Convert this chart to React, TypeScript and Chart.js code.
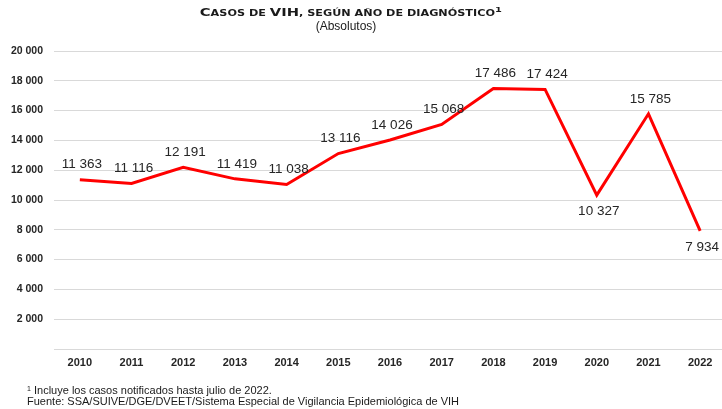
import React, { useEffect, useLayoutEffect, useRef } from "react";
import { Chart, registerables } from "chart.js";

Chart.register(...registerables);

const years = ["2010", "2011", "2012", "2013", "2014", "2015", "2016", "2017", "2018", "2019", "2020", "2021", "2022"];
const cases = [11363, 11116, 12191, 11419, 11038, 13116, 14026, 15068, 17486, 17424, 10327, 15785, 7934];
const yTicks = [0, 2000, 4000, 6000, 8000, 10000, 12000, 14000, 16000, 18000, 20000];
const labelsBelowYears = ["2020", "2022"];

const title = "Casos de VIH, según año de diagnóstico";
const subtitle = "(Absolutos)";
const footnote1 = "Incluye los casos notificados hasta julio de 2022.";
const footnote2 = "Fuente: SSA/SUIVE/DGE/DVEET/Sistema Especial de Vigilancia Epidemiológica de VIH";

const FONT = "'Liberation Sans', Arial, sans-serif";
const TITLE_FONT = "'DejaVu Sans', 'Liberation Sans', sans-serif";
const TITLE_TARGET_WIDTH = 302;

function fmt(v: number): string {
  if (v < 1000) return String(v);
  const th = Math.floor(v / 1000);
  const rest = String(v % 1000).padStart(3, "0");
  return `${th} ${rest}`;
}

const valueLabels = {
  id: "valueLabels",
  afterDatasetsDraw(chart: any) {
    const ctx = chart.ctx;
    const meta = chart.getDatasetMeta(0);
    ctx.save();
    ctx.font = `13.5px ${FONT}`;
    ctx.fillStyle = "#262626";
    ctx.textAlign = "center";
    ctx.textBaseline = "middle";
    meta.data.forEach((pt: any, i: number) => {
      const below = labelsBelowYears.includes(years[i]);
      const y = below ? pt.y + 16 : pt.y - 15;
      ctx.fillText(fmt(cases[i]), pt.x + 2, y);
    });
    ctx.restore();
  },
};

function SmallCaps({ text }: { text: string }) {
  const parts: React.ReactNode[] = [];
  for (let i = 0; i < text.length; i++) {
    const ch = text[i];
    const isUpper = ch !== ch.toLowerCase();
    parts.push(
      <span key={i} style={{ fontSize: isUpper ? 10.5 : 8 }}>
        {ch.toUpperCase()}
      </span>
    );
  }
  return <>{parts}</>;
}

export default function App() {
  const ref = useRef<HTMLCanvasElement | null>(null);
  const titleRef = useRef<HTMLSpanElement | null>(null);

  useLayoutEffect(() => {
    const el = titleRef.current;
    if (!el) return;
    const w = el.getBoundingClientRect().width;
    if (w > 0) el.style.transform = `scaleX(${TITLE_TARGET_WIDTH / w})`;
  }, []);

  useEffect(() => {
    if (!ref.current) return;
    const chart = new Chart(ref.current, {
      type: "line",
      data: {
        labels: years,
        datasets: [
          {
            data: cases,
            borderColor: "#ff0000",
            borderWidth: 3,
            pointRadius: 0,
            tension: 0,
            fill: false,
          },
        ],
      },
      options: {
        responsive: false,
        animation: false,
        layout: { padding: { top: 51, bottom: 40, left: 0, right: 4 } },
        plugins: {
          legend: { display: false },
          tooltip: { enabled: false },
          title: { display: false },
        },
        scales: {
          x: {
            offset: true,
            grid: { display: false, drawTicks: false },
            border: { display: false },
            ticks: {
              padding: 7,
              color: "#262626",
              font: { family: FONT, size: 11, weight: "bold" },
              maxRotation: 0,
              autoSkip: false,
            },
            afterFit: (scale: any) => {
              scale.height = 20;
            },
          },
          y: {
            min: 0,
            max: 20000,
            grid: { color: "#d9d9d9", lineWidth: 1, drawTicks: false },
            border: { display: false },
            afterBuildTicks: (scale: any) => {
              scale.ticks = yTicks.map((v) => ({ value: v }));
            },
            afterFit: (scale: any) => {
              scale.width = 54;
            },
            ticks: {
              padding: 11,
              color: "#262626",
              font: { family: FONT, size: 10.5, weight: "bold" },
              callback: (v: any) => (Number(v) === 0 ? "" : fmt(Number(v))),
            },
          },
        },
      },
      plugins: [valueLabels],
    });
    return () => chart.destroy();
  }, []);

  return (
    <div style={{ position: "absolute", left: 0, top: 0, width: 722, height: 409, overflow: "hidden", background: "#fff", fontFamily: FONT }}>
      <canvas ref={ref} width={730} height={409} style={{ position: "absolute", left: 0, top: 0, width: 730, height: 409 }} />
      <div style={{ position: "absolute", left: 0, top: 4, width: 702, textAlign: "center", lineHeight: "13px", whiteSpace: "nowrap" }}>
        <span
          ref={titleRef}
          style={{ display: "inline-block", fontFamily: TITLE_FONT, fontWeight: "bold", color: "#1a1a1a", whiteSpace: "nowrap", transformOrigin: "50% 0" }}
        >
          <SmallCaps text={title} />
          <span style={{ fontSize: 7, position: "relative", top: -4 }}>1</span>
        </span>
      </div>
      <div style={{ position: "absolute", left: 0, top: 18.5, width: 692, textAlign: "center", fontSize: 12, color: "#1a1a1a", lineHeight: "14px" }}>
        {subtitle}
      </div>
      <div style={{ position: "absolute", left: 27, top: 384, height: 11, fontSize: 11, color: "#1a1a1a", lineHeight: "12px", whiteSpace: "nowrap" }}>
        <span style={{ fontSize: 7, position: "relative", top: -3 }}>1</span> {footnote1}
      </div>
      <div style={{ position: "absolute", left: 27, top: 395, height: 11, fontSize: 11, color: "#1a1a1a", lineHeight: "12px", whiteSpace: "nowrap" }}>
        {footnote2}
      </div>
    </div>
  );
}
